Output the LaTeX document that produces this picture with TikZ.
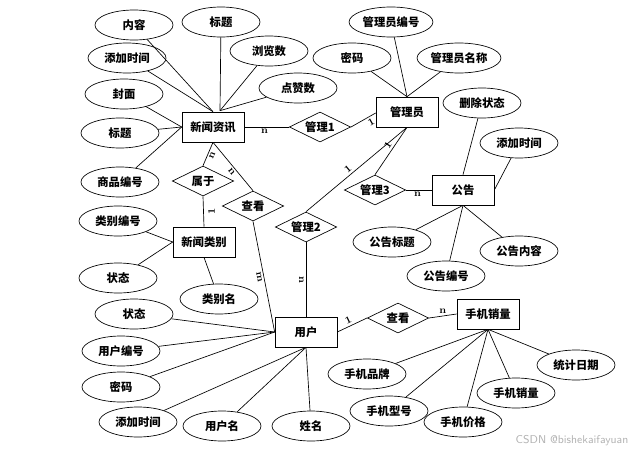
\documentclass[tikz,border=0pt]{standalone}
\usepackage{fontspec}
\newfontfamily\cjk{Noto Sans CJK SC}
\usetikzlibrary{shapes.geometric, positioning, calc}

\begin{document}
\begin{tikzpicture}[
    x=0.75pt, y=-0.75pt,
    font=\cjk\bfseries\fontsize{8.5}{10}\selectfont,
    base/.style={draw, line width=0.5pt, inner sep=1pt, align=center},
    entity/.style={base, rectangle, minimum width=46.5pt, minimum height=22.5pt},
    attr/.style={base, ellipse, minimum width=58.5pt, minimum height=22.5pt},
    rel/.style={base, diamond, aspect=2, inner sep=0pt, minimum width=46pt, minimum height=22.5pt},
    link/.style={line width=0.5pt},
    card/.style={font=\bfseries\fontsize{7.5}{8}\selectfont, inner sep=1.5pt}
  ]
    \useasboundingbox (0,0) rectangle (639,454);
    % entities
    \node[entity] (xinwen) at (213,127) {新闻资讯};
    \node[entity] (admin) at (407,112) {管理员};
    \node[entity] (gonggao) at (463,190) {公告};
    \node[entity] (leibie) at (204,242) {新闻类别};
    \node[entity] (yonghu) at (306,332) {用户};
    \node[entity] (shouji) at (488,314) {手机销量};
    % relations
    \node[rel] (guanli1) at (320,127) {管理1};
    \node[rel] (guanli2) at (306,227) {管理2};
    \node[rel] (guanli3) at (375,190) {管理3};
    \node[rel] (shuyu) at (203,181) {属于};
    \node[rel] (chakan1) at (253,206) {查看};
    \node[rel] (chakan2) at (398,318) {查看};
    % attributes of xinwen
    \node[attr] (xwNeirong) at (134,25) {内容};
    \node[attr] (xwBiaoti) at (221,22) {标题};
    \node[attr] (xwTime) at (127,58) {添加时间};
    \node[attr] (xwLiulan) at (269,51) {浏览数};
    \node[attr] (xwDianzan) at (298,88) {点赞数};
    \node[attr] (xwFengmian) at (124,94) {封面};
    \node[attr] (xwBiaoti2) at (120,133) {标题};
    \node[attr] (xwBianhao) at (120,182) {商品编号};
    % attributes of admin
    \node[attr] (adBianhao) at (391,22) {管理员编号};
    \node[attr] (adMima) at (352,58) {密码};
    \node[attr] (adName) at (459,58) {管理员名称};
    % attributes of gonggao
    \node[attr] (ggDelete) at (482,103) {删除状态};
    \node[attr] (ggTime) at (519,143) {添加时间};
    \node[attr] (ggBiaoti) at (392,242) {公告标题};
    \node[attr] (ggBianhao) at (446,276) {公告编号};
    \node[attr] (ggNeirong) at (519,251) {公告内容};
    % attributes of leibie
    \node[attr] (lbBianhao) at (118,221) {类别编号};
    \node[attr] (lbState) at (118,278) {状态};
    \node[attr] (lbName) at (219,299) {类别名};
    % attributes of yonghu
    \node[attr] (yhState) at (134,314) {状态};
    \node[attr] (yhBianhao) at (121,351) {用户编号};
    \node[attr] (yhMima) at (121,387) {密码};
    \node[attr] (yhTime) at (138,422) {添加时间};
    \node[attr] (yhName) at (222,426) {用户名};
    \node[attr] (yhXingming) at (311,426) {姓名};
    % attributes of shouji
    \node[attr] (sjPinpai) at (367,374) {手机品牌};
    \node[attr] (sjXinghao) at (389,411) {手机型号};
    \node[attr] (sjJiage) at (463,422) {手机价格};
    \node[attr] (sjXiaoliang) at (516,393) {手机销量};
    \node[attr] (sjDate) at (576,365) {统计日期};
    % attribute links
    \foreach \a in {xwNeirong, xwTime} \draw[link] (\a) -- (xinwen.north);
    \foreach \a in {xwBiaoti, xwLiulan, xwDianzan} \draw[link] (\a) -- ($(xinwen.north)+(7,-1)$);
    \foreach \a in {xwFengmian, xwBiaoti2, xwBianhao} \draw[link] (\a) -- (xinwen.west);
    \foreach \a in {adBianhao, adMima, adName} \draw[link] (\a) -- (admin.north);
    \draw[link] (ggDelete) -- (gonggao.north);
    \draw[link] (ggTime) -- (gonggao.east);
    \foreach \a in {ggBiaoti, ggBianhao, ggNeirong} \draw[link] (\a) -- (gonggao.south);
    \foreach \a in {lbBianhao, lbState} \draw[link] (\a) -- (leibie.west);
    \draw[link] (lbName) -- (leibie.south);
    \foreach \a in {yhState, yhBianhao, yhMima} \draw[link] (\a) -- (yonghu.west);
    \foreach \a in {yhTime, yhName, yhXingming} \draw[link] (\a) -- (yonghu.south);
    \foreach \a in {sjPinpai, sjXinghao, sjJiage, sjXiaoliang, sjDate} \draw[link] (\a) -- (shouji.south);
    % relation links
    \draw[link] (xinwen.east) -- (guanli1.west) node[card, pos=0.45, below] {n};
    \draw[link] (guanli1.east) -- ($(admin.west)+(0,1)$) node[card, pos=0.7, below, sloped] {1};
    \draw[link] (xinwen.south) -- (shuyu.north) node[card, midway, below, sloped] {n};
    \draw[link] (xinwen.south) -- (chakan1.north) node[card, pos=0.55, below, sloped] {n};
    \draw[link] (shuyu.south) -- (leibie.north) node[card, midway, xshift=6pt, rotate=90] {1};
    \draw[link] (chakan1.south) -- (yonghu.west) node[card, pos=0.5, below, sloped] {m};
    \draw[link] (guanli2.south) -- (yonghu.north) node[card, midway, below, sloped] {n};
    \draw[link] (admin.south) -- (guanli2.north) node[card, pos=0.55, above, sloped] {1};
    \draw[link] (admin.south) -- (guanli3.north) node[card, pos=0.45, above, sloped] {1};
    \draw[link] (guanli3.east) -- (gonggao.west) node[card, pos=0.45, below] {n};
    \draw[link] (yonghu.east) -- (chakan2.west) node[card, pos=0.45, above, sloped] {1};
    \draw[link] (chakan2.east) -- (shouji.west) node[card, pos=0.5, above] {n};
    % watermark
    \node[font=\sffamily\fontsize{8.5}{10}\selectfont, text=black!30, anchor=east] (mark) at (633,441) {CSDN @bishekaifayuan};
\end{tikzpicture}
\end{document}
